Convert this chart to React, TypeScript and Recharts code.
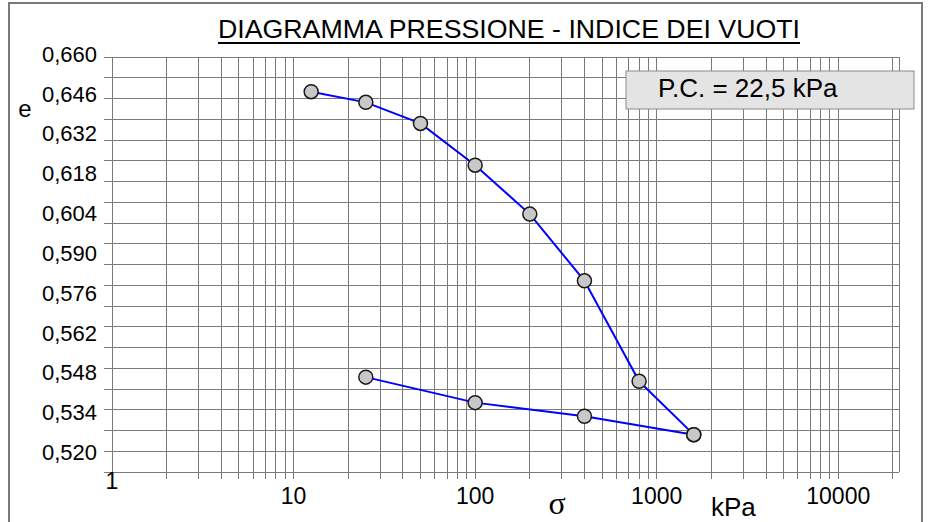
import React from 'react';
import { LineChart, Line, XAxis, YAxis, CartesianGrid } from 'recharts';

// loading branch (stress in kPa, void ratio e)
const loadStress = [12.5, 25, 50, 100, 200, 400, 800, 1600];
const loadVoid = [0.6483, 0.6447, 0.6376, 0.6235, 0.607, 0.5845, 0.5506, 0.5326];

// unloading branch
const unloadStress = [1600, 400, 100, 25];
const unloadVoid = [0.5326, 0.5388, 0.5434, 0.552];

const xTicks = [
  1, 2, 3, 4, 5, 6, 7, 8, 9,
  10, 20, 30, 40, 50, 60, 70, 80, 90,
  100, 200, 300, 400, 500, 600, 700, 800, 900,
  1000, 2000, 3000, 4000, 5000, 6000, 7000, 8000, 9000,
  10000, 20000,
];
const xLabels = [1, 10, 100, 1000, 10000];

const yTicks = [
  0.52, 0.527, 0.534, 0.541, 0.548, 0.555, 0.562, 0.569, 0.576, 0.583, 0.59,
  0.597, 0.604, 0.611, 0.618, 0.625, 0.632, 0.639, 0.646, 0.653, 0.66,
];
const yLabels = [0.52, 0.534, 0.548, 0.562, 0.576, 0.59, 0.604, 0.618, 0.632, 0.646, 0.66];

const title = 'DIAGRAMMA PRESSIONE - INDICE DEI VUOTI';
const note = 'P.C. = 22,5 kPa';

const W = 933;
const H = 522;
const PLOT_TOP = 57;
const FONT = '"Liberation Sans", Arial, sans-serif';
const GRID = '#7a7a7a';

const loadData = loadStress.map((s, i) => ({ s, e: loadVoid[i] }));
const unloadData = unloadStress.map((s, i) => ({ s, e: unloadVoid[i] }));

const dotStyle = { r: 7, fill: '#c8c8c8', stroke: '#1a1a1a', strokeWidth: 1.5 };

const XTick = (props: any) => {
  const { x, y, payload } = props;
  if (!xLabels.includes(payload.value)) return <g />;
  // excel puts the "1" higher than the other labels
  const dy = payload.value === 1 ? 8 : 23;
  return (
    <text x={x} y={y + dy} textAnchor="middle" fontFamily={FONT} fontSize={23} fill="#000">
      {payload.value}
    </text>
  );
};

const YTick = (props: any) => {
  const { x, y, payload } = props;
  const v = Number(payload.value);
  if (!yLabels.some((l) => Math.abs(l - v) < 1e-6)) return <g />;
  // labels in the original drift slightly up vs the gridlines
  const by = PLOT_TOP + 4.7 + (y - PLOT_TOP) * 0.96;
  return (
    <text x={x - 5} y={by} textAnchor="end" fontFamily={FONT} fontSize={22} fill="#000">
      {v.toFixed(3).replace('.', ',')}
    </text>
  );
};

export default function App() {
  return (
    <div style={{ position: 'absolute', left: 0, top: 0, width: W, height: H, overflow: 'hidden', background: '#fff' }}>
      <LineChart
        width={W}
        height={H}
        margin={{ top: PLOT_TOP, right: 34, bottom: 10, left: 0 }}
        style={{ position: 'absolute', left: 0, top: 0 }}
      >
        <CartesianGrid stroke={GRID} strokeWidth={1} shapeRendering="crispEdges" />
        <XAxis
          dataKey="s"
          type="number"
          scale="log"
          domain={[1, 21600]}
          ticks={xTicks}
          interval={0}
          allowDataOverflow
          height={40}
          tickSize={7}
          tickLine={{ stroke: GRID, shapeRendering: 'crispEdges' }}
          axisLine={{ stroke: GRID, shapeRendering: 'crispEdges' }}
          tick={<XTick />}
        />
        <YAxis
          type="number"
          domain={[0.52, 0.66]}
          ticks={yTicks}
          interval={0}
          allowDataOverflow
          width={112}
          tickSize={8}
          tickLine={{ stroke: GRID, shapeRendering: 'crispEdges' }}
          axisLine={{ stroke: GRID, shapeRendering: 'crispEdges' }}
          tick={<YTick />}
        />
        <Line
          data={unloadData}
          dataKey="e"
          stroke="#0000ff"
          strokeWidth={2}
          dot={dotStyle}
          isAnimationActive={false}
        />
        <Line
          data={loadData}
          dataKey="e"
          stroke="#0000ff"
          strokeWidth={2}
          dot={dotStyle}
          isAnimationActive={false}
        />
      </LineChart>

      <svg width={W} height={H} style={{ position: 'absolute', left: 0, top: 0, pointerEvents: 'none' }}>
        <rect x={9} y={3} width={913} height={560} fill="none" stroke="#7a7a7a" strokeWidth={2} />
        <text x={218} y={38} fontFamily={FONT} fontSize={25} fill="#000" textLength={582} lengthAdjust="spacingAndGlyphs">
          {title}
        </text>
        <line x1={218} x2={800} y1={43} y2={43} stroke="#000" strokeWidth={2} />

        <rect x={626} y={71} width={288} height={38} fill="#e4e4e4" stroke="#8a8a8a" strokeWidth={1} />
        <text x={658} y={97} fontFamily={FONT} fontSize={26} fill="#000">
          {note}
        </text>

        <text x={25} y={117} textAnchor="middle" fontFamily={FONT} fontSize={24} fill="#000">e</text>
        <text x={557} y={514} textAnchor="middle" fontFamily='"Liberation Serif", "DejaVu Serif", serif' fontSize={32} fill="#000">σ</text>
        <text x={711} y={516} fontFamily={FONT} fontSize={26} fill="#000">kPa</text>
      </svg>
    </div>
  );
}
